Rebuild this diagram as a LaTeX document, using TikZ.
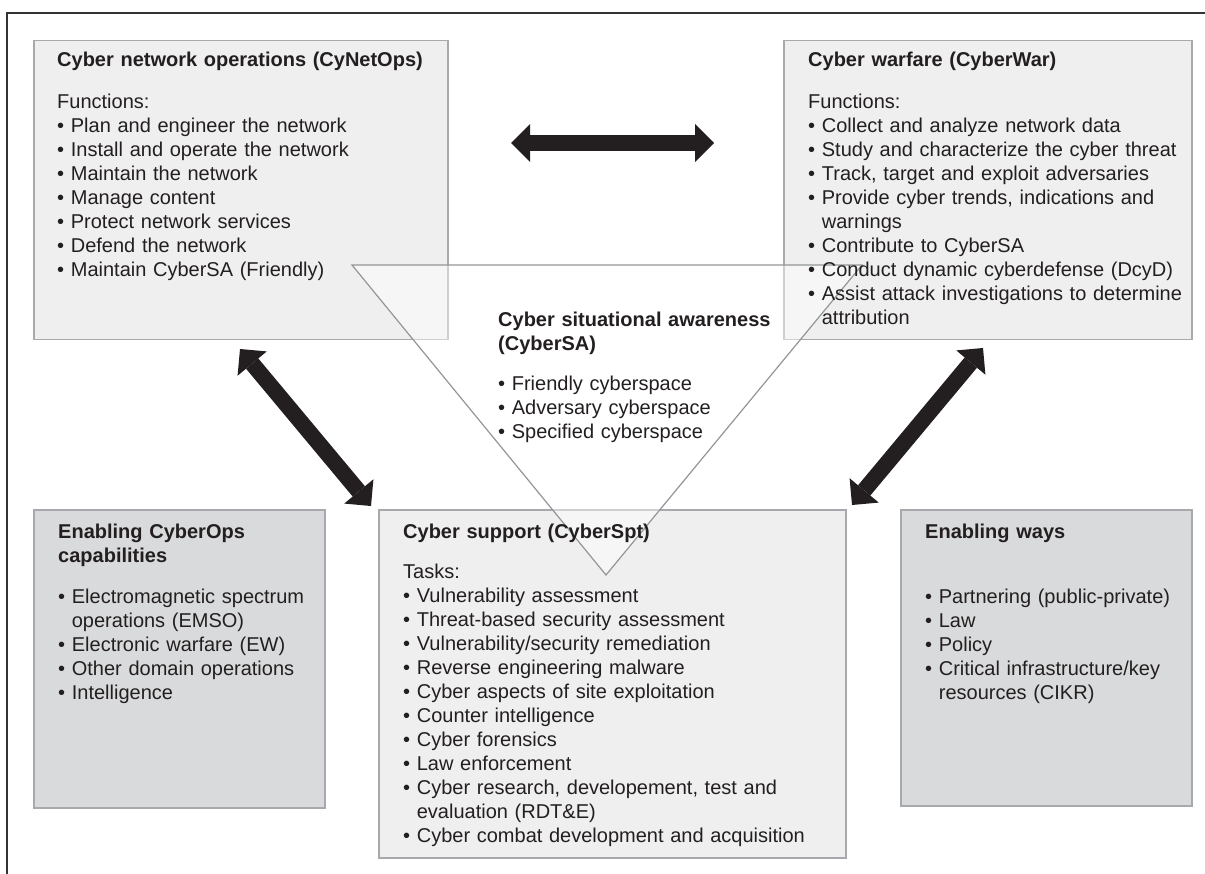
\documentclass[tikz,border=0pt]{standalone}
\usepackage{fontspec}
\setmainfont{Liberation Sans}
\usetikzlibrary{arrows.meta}
\definecolor{ink}{HTML}{231F20}
\definecolor{lightfill}{HTML}{EFEFF0}
\definecolor{darkfill}{HTML}{D9DADB}
\definecolor{boxline}{HTML}{A7A9AC}
\definecolor{triline}{HTML}{939598}
\definecolor{frameline}{HTML}{333333}
\newcommand\ind{\hphantom{•\ }}
\begin{document}
\begin{tikzpicture}[x=1pt,y=-1pt,
  lightbox/.style={draw=boxline,fill=lightfill,line width=1.5pt,inner sep=0pt,anchor=north west},
  darkbox/.style={draw=boxline,fill=darkfill,line width=1.5pt,inner sep=0pt,anchor=north west},
  txt/.style={text=ink,inner sep=0pt,anchor=base west,text width=440pt,align=left,
    font=\fontsize{20}{24}\selectfont},
  bigarrow/.style={draw=ink,line width=16pt,
    {Triangle[length=19pt,width=38pt,line width=0pt]}-{Triangle[length=19pt,width=38pt,line width=0pt]}}
]
\useasboundingbox (0,0) rectangle (1205,874);
% frame
\draw[frameline,line width=1.5pt] (1205,13) -- (7,13) -- (7,874);

% boxes
\node[lightbox,minimum width=414pt,minimum height=299pt] (cynet) at (33,40) {};
\node[lightbox,minimum width=408pt,minimum height=299pt] (cyberwar) at (783,40) {};
\node[darkbox,minimum width=291pt,minimum height=298pt] (enabling) at (33,509) {};
\node[lightbox,minimum width=467pt,minimum height=348pt] (cyberspt) at (378,509) {};
\node[darkbox,minimum width=291pt,minimum height=296pt] (ways) at (900,509) {};

% triangle (CyberSA)
\coordinate (ta) at (352,265);
\coordinate (tb) at (862,265);
\coordinate (tc) at (606,575);
\filldraw[draw=triline,fill=white,fill opacity=0.45,line width=1.2pt] (ta) -- (tb) -- (tc) -- cycle;

% texts
\node[txt] (cynettxt) at (57,67) {\textbf{Cyber network operations (CyNetOps)}\\[18pt]
Functions:\\
• Plan and engineer the network\\
• Install and operate the network\\
• Maintain the network\\
• Manage content\\
• Protect network services\\
• Defend the network\\
• Maintain CyberSA (Friendly)};

\node[txt] (cyberwartxt) at (808,67) {\textbf{Cyber warfare (CyberWar)}\\[18pt]
Functions:\\
• Collect and analyze network data\\
• Study and characterize the cyber threat\\
• Track, target and exploit adversaries\\
• Provide cyber trends, indications and\\
\ind warnings\\
• Contribute to CyberSA\\
• Conduct dynamic cyberdefense (DcyD)\\
• Assist attack investigations to determine\\
\ind attribution};

\node[txt] (satxt) at (498,327) {\textbf{Cyber situational awareness}\\
\textbf{(CyberSA)}\\[16pt]
• Friendly cyberspace\\
• Adversary cyberspace\\
• Specified cyberspace};

\node[txt] (enablingtxt) at (58,538) {\textbf{Enabling CyberOps}\\
\textbf{capabilities}\\[17pt]
• Electromagnetic spectrum\\
\ind operations (EMSO)\\
• Electronic warfare (EW)\\
• Other domain operations\\
• Intelligence};

\node[txt] (cybersptxt) at (403,538) {\textbf{Cyber support (CyberSpt)}\\[16pt]
Tasks:\\
• Vulnerability assessment\\
• Threat-based security assessment\\
• Vulnerability/security remediation\\
• Reverse engineering malware\\
• Cyber aspects of site exploitation\\
• Counter intelligence\\
• Cyber forensics\\
• Law enforcement\\
• Cyber research, developement, test and\\
\ind evaluation (RDT\&E)\\
• Cyber combat development and acquisition};

\node[txt] (waystxt) at (925,538) {\textbf{Enabling ways}\\[41pt]
• Partnering (public-private)\\
• Law\\
• Policy\\
• Critical infrastructure/key\\
\ind resources (CIKR)};

% arrows
\coordinate (h1) at (511,143);
\coordinate (h2) at (714,143);
\coordinate (l1) at (240,349);
\coordinate (l2) at (371,506);
\coordinate (r1) at (983,348);
\coordinate (r2) at (852,505);
\draw[bigarrow] (h1) -- (h2);
\draw[bigarrow] (l1) -- (l2);
\draw[bigarrow] (r1) -- (r2);
\end{tikzpicture}
\end{document}
